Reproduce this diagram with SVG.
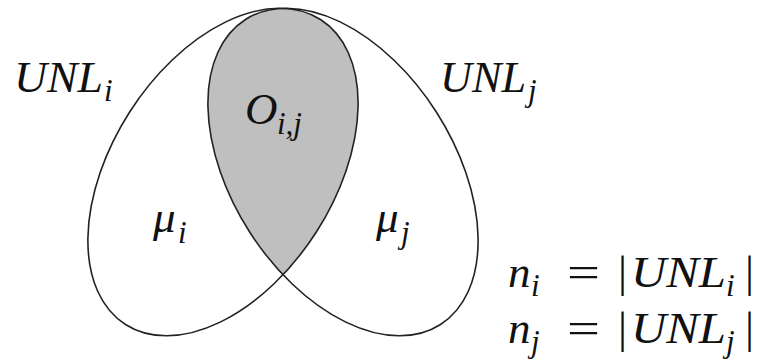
<svg xmlns="http://www.w3.org/2000/svg" width="761" height="363" viewBox="0 0 761 363">
<style>
.m{font-family:"Liberation Serif","DejaVu Serif",serif;font-style:italic;font-size:45px;fill:#111}
.s{font-family:"Liberation Serif","DejaVu Serif",serif;font-style:italic;font-size:31px;fill:#111}
.r{font-family:"Liberation Serif","DejaVu Serif",serif;font-size:45px;fill:#111}
.e{fill:none;stroke:#222;stroke-width:1.6}
</style>
<defs>
<clipPath id="clipL"><ellipse cx="223" cy="172" rx="181" ry="111" transform="rotate(-57.4 223 172)"/></clipPath>
</defs>
<rect width="761" height="363" fill="#fff"/>
<g id="overlap" clip-path="url(#clipL)"><ellipse cx="343" cy="172" rx="181" ry="111" transform="rotate(57.4 343 172)" fill="#bfbfbf"/></g>
<g id="setI"><ellipse class="e" cx="223" cy="172" rx="181" ry="111" transform="rotate(-57.4 223 172)"/></g>
<g id="setJ"><ellipse class="e" cx="343" cy="172" rx="181" ry="111" transform="rotate(57.4 343 172)"/></g>
<g id="labels">
<text class="m" x="14" y="92" textLength="89" lengthAdjust="spacingAndGlyphs">UNL</text><text class="s" x="104" y="101">i</text>
<text class="m" x="245" y="124">O</text><text class="s" x="277" y="134">i,j</text>
<text class="m" x="153" y="232">μ</text><text class="s" x="178" y="243">i</text>
<text class="m" x="376" y="232">μ</text><text class="s" x="401" y="243">j</text>
<text class="m" x="440" y="92" textLength="86" lengthAdjust="spacingAndGlyphs">UNL</text><text class="s" x="528" y="101">j</text>
<text class="m" x="508" y="287">n</text><text class="s" x="531" y="296">i</text>
<text class="r" x="567" y="287" textLength="33" lengthAdjust="spacingAndGlyphs">=</text><text class="r" x="618" y="287">|</text>
<text class="m" x="631" y="287" textLength="95" lengthAdjust="spacingAndGlyphs">UNL</text><text class="s" x="726" y="296">i</text><text class="r" x="745" y="287">|</text>
<text class="m" x="508" y="343">n</text><text class="s" x="531" y="352">j</text>
<text class="r" x="567" y="343" textLength="33" lengthAdjust="spacingAndGlyphs">=</text><text class="r" x="618" y="343">|</text>
<text class="m" x="631" y="343" textLength="95" lengthAdjust="spacingAndGlyphs">UNL</text><text class="s" x="726" y="352">j</text><text class="r" x="745" y="343">|</text>
</g>
</svg>
